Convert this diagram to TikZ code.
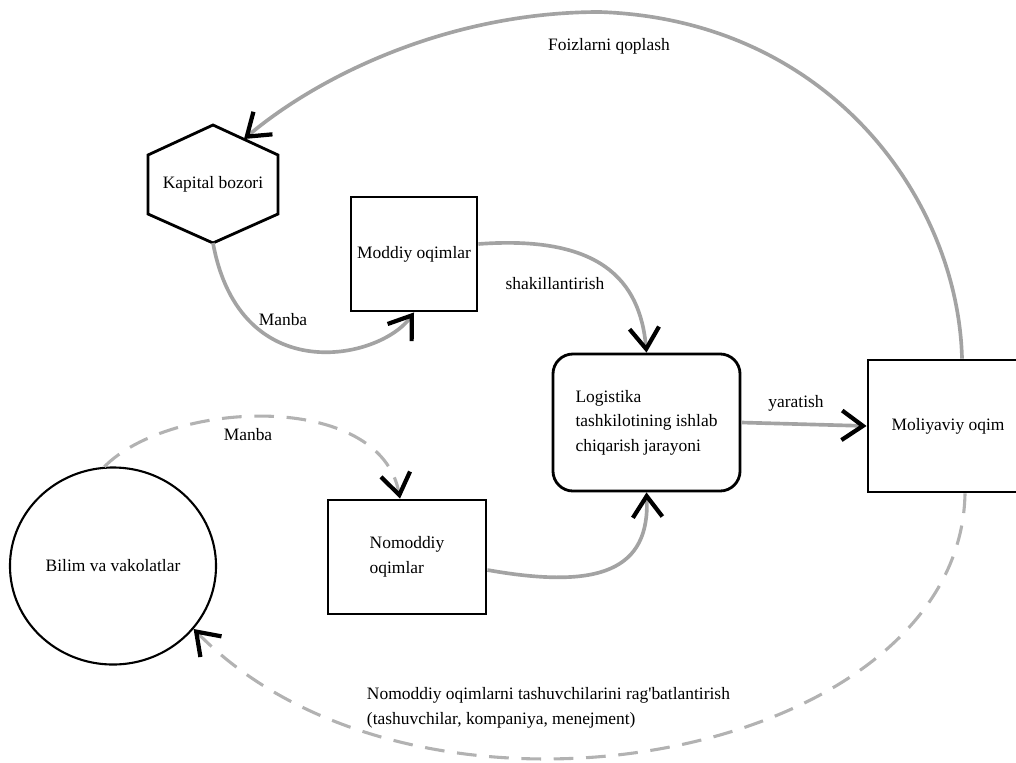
\documentclass[tikz,border=0pt]{standalone}
\usepackage{fontspec}
\setmainfont{Liberation Serif}
\usetikzlibrary{arrows.meta,shapes.geometric,calc}

\tikzset{
  box/.style={draw, line width=2pt, align=left, inner sep=0pt},
  flow/.style={draw=black!36, line width=2.6pt,
    -{Straight Barb[color=black, length=15pt, width=21pt, line width=3pt]}},
  dashflow/.style={flow, draw=black!30, line width=2.2pt, dash pattern=on 14pt off 9pt},
}

\begin{document}
\begin{tikzpicture}[x=0.025cm, y=-0.025cm, font=\fontsize{12.4}{17.4}\selectfont]
  \useasboundingbox (0,0) rectangle (1016,762);

  % blocks
  \node (kb) at (213,184) {Kapital bozori};
  \draw[line width=2pt] (kb) +(0,-59) -- +(65,-29) -- +(65,30) -- +(0,59)
    -- +(-65,30) -- +(-65,-29) -- cycle;
  \coordinate (kbin)  at ($(kb)+(31,-45)$);
  \coordinate (kbout) at ($(kb)+(0,59)$);

  \node[box, minimum width=3.15cm, minimum height=2.85cm] (md) at (414,254) {Moddiy oqimlar};
  \node[box, rounded corners=0.5cm, minimum width=4.675cm, minimum height=3.425cm] (lg) at (646.5,422.5)
    {Logistika\\tashkilotining ishlab\\chiqarish jarayoni};
  \node[box, minimum width=4cm, minimum height=3.3cm] (mo) at (948,426) {Moliyaviy oqim};
  \node[box, minimum width=3.95cm, minimum height=2.85cm] (nm) at (407,557) {Nomoddiy\\oqimlar};
  \node[draw, ellipse, line width=1.5pt, minimum width=5.15cm, minimum height=4.925cm] (bv) at (113,566)
    {Bilim va vakolatlar};

  % flows
  \draw[flow] ($(mo.north)+(14,0)$) .. controls (958,200) and (830,20) .. (600,12)
    .. controls (450,12) and (320,75) .. (kbin);
  \draw[flow] (kbout) .. controls (240,390) and (380,360) .. (md.south);
  \draw[flow] ($(md.east)+(0,-10)$) .. controls (600,235) and (640,280) .. (lg.north);
  \draw[flow] (lg.east) -- (mo.west);
  \draw[flow] ($(nm.east)+(0,13)$) .. controls (600,590) and (650,570) .. (lg.south);
  \draw[dashflow] (bv.95) .. controls (170,400) and (380,390) .. ($(nm.north)+(-7,0)$);
  \draw[dashflow] ($(mo.south)+(17,0)$) .. controls (960,760) and (420,860) .. (bv.-38);

  % labels
  \node (foiz) at (609,46) {Foizlarni qoplash};
  \node (manba1) at (283,320) {Manba};
  \node (shakl) at (555,284) {shakillantirish};
  \node (yar) at (796,403) {yaratish};
  \node (manba2) at (248,435) {Manba};
  \node[anchor=west, align=left] (ragb) at (362,708)
    {Nomoddiy oqimlarni tashuvchilarini rag\textquotesingle batlantirish\\(tashuvchilar, kompaniya, menejment)};
\end{tikzpicture}
\end{document}
